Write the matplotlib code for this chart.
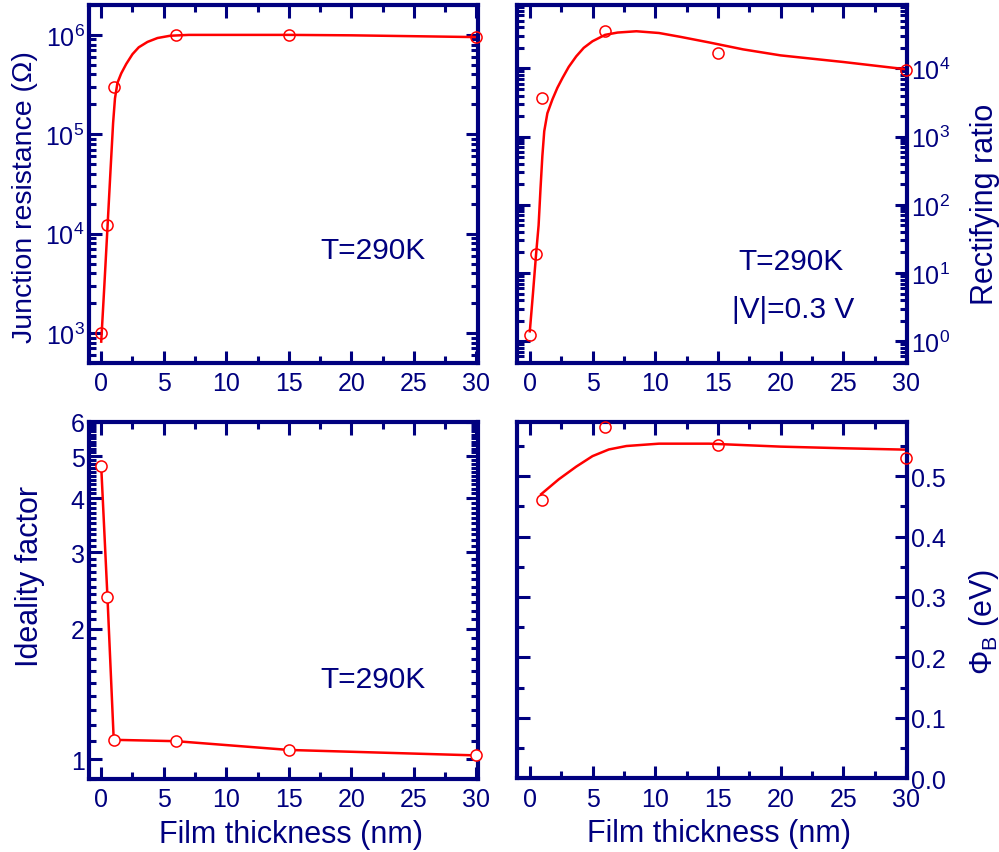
import matplotlib
matplotlib.use("Agg")
import matplotlib.pyplot as plt
from matplotlib.ticker import FixedLocator, MultipleLocator, LogLocator, NullFormatter, FormatStrFormatter

plt.rcParams['font.family'] = ['Liberation Sans', 'DejaVu Sans']
plt.rcParams['mathtext.fontset'] = 'custom'
plt.rcParams['mathtext.rm'] = 'Liberation Sans'
plt.rcParams['mathtext.it'] = 'Liberation Sans'
plt.rcParams['mathtext.default'] = 'regular'

NAVY = '#00007f'
RED = '#ff0000'

# measured points
thickness = [0, 0.5, 1, 6, 15, 30]
resistance = [1.0e3, 1.21e4, 2.98e5, 1.0e6, 1.0e6, 0.95e6]
rect_ratio = [1.25, 19, 3.7e3, 3.56e4, 1.66e4, 9.6e3]
ideality = [4.73, 2.36, 1.108, 1.10, 1.05, 1.02]
barrier_x = [1, 6, 15, 30]
barrier = [0.460, 0.581, 0.551, 0.530]

# fitted curves
res_fit_x = [0, 0.25, 0.5, 0.75, 0.95, 1.1, 1.3, 1.6, 2.0, 2.5, 3.0, 3.7, 4.5, 5.5, 7, 10, 15, 20, 25, 30]
res_fit_y = [8.2e2, 3.0e3, 1.15e4, 4.5e4, 1.3e5, 2.3e5, 3.3e5, 4.1e5, 5.1e5, 6.4e5, 7.5e5, 8.5e5,
             9.3e5, 9.8e5, 1.0e6, 1.0e6, 1.0e6, 0.99e6, 0.97e6, 0.95e6]
rr_fit_x = [0, 0.25, 0.5, 0.7, 0.85, 1.0, 1.15, 1.4, 1.8, 2.2, 2.6, 3.1, 3.7, 4.3, 5, 6, 7, 8.5,
            10.3, 12, 14.3, 17, 20, 25, 30]
rr_fit_y = [1.4, 5, 19, 50, 170, 520, 1.2e3, 2.2e3, 3.5e3, 5.2e3, 7.2e3, 1.05e4, 1.5e4, 2.0e4, 2.5e4,
            3.1e4, 3.35e4, 3.5e4, 3.3e4, 2.9e4, 2.4e4, 1.9e4, 1.55e4, 1.24e4, 9.7e3]
pb_fit_x = [0.9, 2.3, 3.7, 5.0, 6.3, 7.7, 10.3, 14.3, 20, 25, 30]
pb_fit_y = [0.470, 0.4945, 0.5156, 0.533, 0.544, 0.5497, 0.5536, 0.5536, 0.5487, 0.546, 0.5437]

fig = plt.figure(figsize=(9.99, 8.53), dpi=100)
ax1 = fig.add_axes([0.0888, 0.5733, 0.3894, 0.4197])
ax2 = fig.add_axes([0.5178, 0.5733, 0.3904, 0.4197])
ax3 = fig.add_axes([0.0888, 0.0856, 0.3894, 0.4189])
ax4 = fig.add_axes([0.5178, 0.0864, 0.3904, 0.4181])

LABEL_FS = 22
TEXT_FS = 21.5


def style(ax):
    for s in ax.spines.values():
        s.set_color(NAVY)
        s.set_linewidth(3)
    ax.tick_params(which='both', direction='in', top=True, right=True,
                   color=NAVY, labelcolor=NAVY, labelsize=18, width=2.2)
    ax.tick_params(which='major', length=9)
    ax.tick_params(which='minor', length=5)
    ax.tick_params(axis='y', pad=3)
    ax.tick_params(axis='x', pad=6)
    ax.set_xlim(-1, 30.1)
    ax.xaxis.set_major_locator(MultipleLocator(5))
    ax.xaxis.set_minor_locator(MultipleLocator(2.5))


def points(ax, x, y, face='none', line=False):
    ax.plot(x, y, '-o' if line else 'o', color=RED, lw=1.8, mfc=face, mec=RED,
            ms=8, mew=1.1, clip_on=False, zorder=3)


# junction resistance
ax1.set_yscale('log')
ax1.plot(res_fit_x, res_fit_y, color=RED, lw=1.8)
points(ax1, thickness, resistance)
style(ax1)
ax1.set_ylim(5e2, 2e6)
ax1.yaxis.set_major_locator(FixedLocator([1e3, 1e4, 1e5, 1e6]))
ax1.yaxis.set_minor_locator(LogLocator(base=10, subs=range(2, 10)))
ax1.yaxis.set_minor_formatter(NullFormatter())
ax1.set_ylabel('Junction resistance (Ω)', fontsize=20.5, color=NAVY,
               family=['Liberation Sans Narrow', 'Liberation Sans', 'DejaVu Sans'])
ax1.yaxis.set_label_coords(-0.13, 0.465)
ax1.text(0.73, 0.316, 'T=290K', transform=ax1.transAxes, fontsize=TEXT_FS,
         color=NAVY, ha='center', va='center')

# rectifying ratio
ax2.set_yscale('log')
ax2.plot(rr_fit_x, rr_fit_y, color=RED, lw=1.8)
points(ax2, thickness, rect_ratio)
style(ax2)
ax2.set_ylim(0.48, 8.5e4)
ax2.yaxis.set_major_locator(FixedLocator([1, 10, 100, 1e3, 1e4]))
ax2.yaxis.set_minor_locator(LogLocator(base=10, subs=range(2, 10)))
ax2.yaxis.set_minor_formatter(NullFormatter())
ax2.tick_params(which='both', left=True, right=True, labelleft=False, labelright=True)
ax2.yaxis.set_label_position('right')
ax2.set_ylabel('Rectifying ratio', fontsize=LABEL_FS, color=NAVY)
ax2.yaxis.set_label_coords(1.161, 0.447)
ax2.text(0.701, 0.286, 'T=290K', transform=ax2.transAxes, fontsize=TEXT_FS,
         color=NAVY, ha='center', va='center')
ax2.text(0.708, 0.151, '|V|=0.3 V', transform=ax2.transAxes, fontsize=TEXT_FS,
         color=NAVY, ha='center', va='center')

# ideality factor
ax3.set_yscale('log')
points(ax3, thickness, ideality, face='white', line=True)
style(ax3)
ax3.set_ylim(0.9, 6)
ax3.yaxis.set_major_locator(FixedLocator([1, 2, 3, 4, 5, 6]))
ax3.yaxis.set_major_formatter(FormatStrFormatter('%d'))
ax3.yaxis.set_minor_locator(MultipleLocator(0.1))
ax3.yaxis.set_minor_formatter(NullFormatter())
ax3.set_ylabel('Ideality factor', fontsize=LABEL_FS, color=NAVY)
ax3.yaxis.set_label_coords(-0.112, 0.569)
ax3.set_xlabel('Film thickness (nm)', fontsize=LABEL_FS, color=NAVY)
ax3.xaxis.set_label_coords(0.52, -0.112)
ax3.text(0.73, 0.28, 'T=290K', transform=ax3.transAxes, fontsize=TEXT_FS,
         color=NAVY, ha='center', va='center')

# barrier height
ax4.plot(pb_fit_x, pb_fit_y, color=RED, lw=1.8)
points(ax4, barrier_x, barrier)
style(ax4)
ax4.set_ylim(0, 0.59)
ax4.yaxis.set_major_locator(MultipleLocator(0.1))
ax4.yaxis.set_minor_locator(MultipleLocator(0.05))
ax4.yaxis.set_major_formatter(FormatStrFormatter('%.1f'))
ax4.tick_params(which='both', left=True, right=True, labelleft=False, labelright=True)
ax4.yaxis.set_label_position('right')
ax4.set_ylabel(r'$\Phi_{B}$ (eV)', fontsize=LABEL_FS, color=NAVY)
ax4.yaxis.set_label_coords(1.152, 0.442)
ax4.set_xlabel('Film thickness (nm)', fontsize=LABEL_FS, color=NAVY)
ax4.xaxis.set_label_coords(0.517, -0.112)

fig.savefig('out.png', dpi=100)
